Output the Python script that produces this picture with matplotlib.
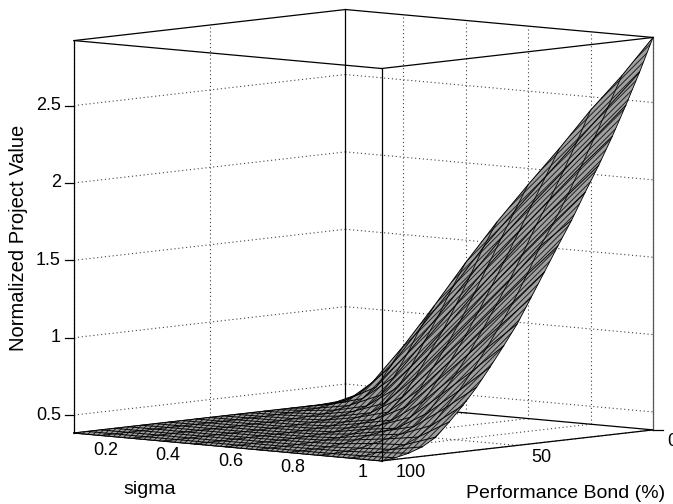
import numpy as np
import matplotlib
matplotlib.use("Agg")
import matplotlib.pyplot as plt
from mpl_toolkits.mplot3d import proj3d

plt.rcParams['font.family'] = ['Liberation Sans']
plt.rcParams['hatch.linewidth'] = 0.7
plt.rcParams['hatch.color'] = '#202020'

# Data #
sigma = [0.015, 0.1, 0.2, 0.3, 0.4, 0.5, 0.6, 0.7, 0.8, 0.9, 1.0]
bond = [100, 95, 90, 85, 80, 75, 70, 65, 60, 55, 50, 45, 40, 35, 30, 25, 20, 15, 10, 5, 0]
value = [
    [.384, .384, .384, .384, .384, .384, .384, .384, .384, .384, .384],
    [.384, .384, .384, .384, .384, .384, .384, .384, .385, .388, .394],
    [.384, .384, .384, .384, .384, .385, .385, .386, .390, .400, .414],
    [.384, .384, .385, .385, .385, .385, .387, .390, .400, .410, .445],
    [.384, .385, .385, .385, .385, .387, .390, .400, .420, .430, .498],
    [.384, .385, .385, .385, .386, .388, .395, .415, .440, .470, .587],
    [.384, .385, .385, .385, .387, .390, .400, .435, .460, .536, .683],
    [.384, .385, .385, .385, .388, .395, .415, .450, .500, .638, .790],
    [.384, .385, .385, .387, .390, .400, .435, .460, .577, .740, .911],
    [.384, .385, .386, .388, .395, .415, .450, .520, .686, .858, 1.038],
    [.384, .385, .387, .390, .400, .435, .475, .615, .800, .990, 1.170],
    [.384, .386, .388, .395, .415, .450, .550, .737, .927, 1.127, 1.327],
    [.384, .386, .390, .400, .435, .488, .653, .858, 1.069, 1.272, 1.485],
    [.384, .388, .395, .415, .455, .574, .785, .995, 1.216, 1.436, 1.644],
    [.384, .390, .400, .435, .506, .693, .917, 1.147, 1.370, 1.614, 1.799],
    [.384, .395, .415, .460, .600, .833, 1.064, 1.307, 1.535, 1.758, 1.969],
    [.384, .400, .435, .520, .727, .972, 1.226, 1.469, 1.713, 1.921, 2.134],
    [.384, .415, .470, .625, .881, 1.132, 1.396, 1.637, 1.868, 2.098, 2.311],
    [.384, .430, .534, .769, 1.033, 1.302, 1.566, 1.809, 2.040, 2.276, 2.502],
    [.384, .460, .650, .929, 1.200, 1.482, 1.733, 1.977, 2.220, 2.464, 2.704],
    [.384, .523, .777, 1.059, 1.355, 1.635, 1.895, 2.147, 2.413, 2.654, 2.920],
]
sigma_ticks = [0.2, 0.4, 0.6, 0.8, 1]
bond_ticks = [100, 50, 0]
z_ticks = [0.5, 1, 1.5, 2, 2.5]

x0, x1 = sigma[0], sigma[-1]
z0, z1 = 0.384, 2.92
W, H = 673, 504

fig = plt.figure(figsize=(W / 100, H / 100), dpi=100)
ax = fig.add_axes([-0.1, -0.1, 1.2, 1.2], projection='3d', computed_zorder=False)
ax.set_proj_type('ortho')
ax.view_init(elev=5.85, azim=-48.3)
ax.set_xlim(x0, x1)
ax.set_ylim(100, 0)
ax.set_zlim(z0, z1)
ax.set_axis_off()
ax.patch.set_alpha(0)


def to_px(x, y, z):
    # data -> picture pixels, y counted from the top
    px, py, _ = proj3d.proj_transform(x, y, z, ax.get_proj())
    a, b = ax.transData.transform((px, py))
    return a, H - b


# fit the box on the corners of the reference #
zoom = 1.0
ax.set_box_aspect((412, 408, 394.5), zoom=zoom)
fig.canvas.draw()
left = to_px(x0, 100, z0)
right = to_px(x1, 0, z0)
zoom = zoom * (653 - 74) / (right[0] - left[0])
ax.set_box_aspect((412, 408, 394.5), zoom=zoom)
fig.canvas.draw()
left = to_px(x0, 100, z0)
pos = ax.get_position()
ax.set_position([pos.x0 + (74 - left[0]) / W, pos.y0 - (433 - left[1]) / H, pos.width, pos.height])
fig.canvas.draw()


def edge(p, q, zorder=1, **kw):
    style = dict(color='black', lw=0.9, clip_on=False)
    style.update(kw)
    ax.plot([p[0], q[0]], [p[1], q[1]], [p[2], q[2]], zorder=zorder, **style)


dot = dict(color='#404040', lw=0.8, ls=(0, (1, 2.5)))

# Grid on the back walls and the floor #
for z in z_ticks:
    edge((x0, 100, z), (x0, 0, z), **dot)
    edge((x0, 0, z), (x1, 0, z), **dot)
for s in sigma_ticks:
    edge((s, 0, z0), (s, 0, z1), **dot)
    edge((s, 100, z0), (s, 0, z0), **dot)
for b in bond_ticks[:-1]:
    edge((x0, b, z0), (x1, b, z0), **dot)
    edge((x0, b, z0), (x0, b, z1), **dot)

# Box behind the surface #
edge((x0, 0, z0), (x0, 0, z1))
edge((x0, 100, z0), (x0, 100, z1))
edge((x0, 0, z0), (x1, 0, z0))
edge((x0, 100, z0), (x0, 0, z0))
edge((x0, 100, z0), (x1, 100, z0))
edge((x1, 100, z0), (x1, 0, z0))
edge((x1, 0, z0), (x1, 0, z1), color='#555555')

# Surface #
X, Y = np.meshgrid(sigma, bond)
Z = np.array(value)
surf = ax.plot_surface(X, Y, Z, rstride=1, cstride=1, color='#a0a0a0', shade=False,
                       linewidth=0, zorder=2)
surf.set_hatch('//////')
for i in range(len(bond)):
    ax.plot(X[i], Y[i], Z[i], color='black', lw=0.7, zorder=3, clip_on=False)
for j in range(len(sigma)):
    ax.plot(X[:, j], Y[:, j], Z[:, j], color='black', lw=0.6, zorder=3, clip_on=False)

# Box in front of the surface #
edge((x1, 100, z0), (x1, 100, z1), zorder=4)
edge((x0, 100, z1), (x1, 100, z1), zorder=4)
edge((x1, 100, z1), (x1, 0, z1), zorder=4)
edge((x0, 100, z1), (x0, 0, z1), zorder=4)
edge((x0, 0, z1), (x1, 0, z1), zorder=4)


def put(px, py, label, size=13, **kw):
    fig.text(px / W, 1 - py / H, label, fontsize=size, color='black', va='center', **kw)


# Ticks and labels #
for z in z_ticks:
    a, b = to_px(x0, 100, z)
    fig.add_artist(plt.Line2D([(a - 9) / W, a / W], [1 - b / H, 1 - b / H], color='black', lw=0.9))
    put(a - 13, b, f"{z:g}", ha='right')
a, b = to_px(x1, 0, z0)
fig.add_artist(plt.Line2D([a / W, (a + 10) / W], [1 - b / H, 1 - b / H], color='black', lw=0.9))
for s in sigma_ticks:
    a, b = to_px(s, 100, z0)
    put(a - 13.5, b + 12, f"{s:g}", ha='right')
for b_val in bond_ticks:
    a, b = to_px(x1, b_val, z0)
    put(a + 14, b + 12, f"{b_val:g}", ha='left')

put(150, 490, "sigma", size=14, ha='center')
put(565.5, 494, "Performance Bond (%)", size=14, ha='center')
put(19, 238, "Normalized Project Value", size=14.5, ha='center', rotation=90, rotation_mode='anchor')

fig.savefig("out.png", dpi=100)
